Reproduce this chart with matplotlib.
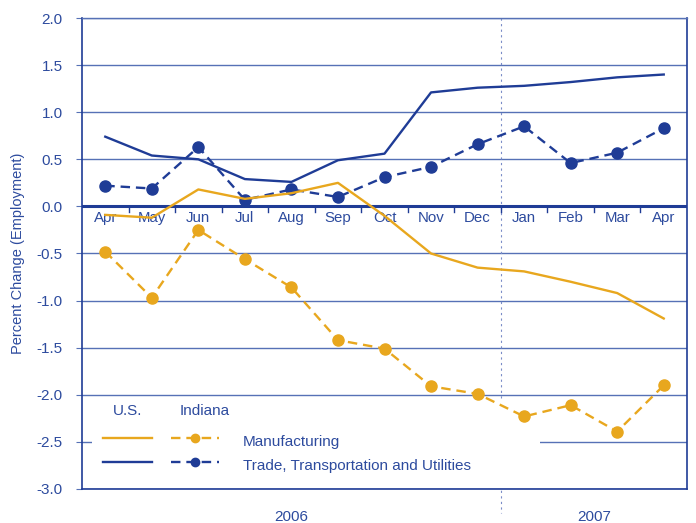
import matplotlib
matplotlib.use("Agg")
import matplotlib.pyplot as plt
from matplotlib.patches import Rectangle

plt.rcParams['font.family'] = ['Liberation Sans', 'DejaVu Sans']
plt.rcParams['axes.unicode_minus'] = False

# --- data (percent change in employment) ---
months = ["Apr", "May", "Jun", "Jul", "Aug", "Sep", "Oct", "Nov", "Dec",
          "Jan", "Feb", "Mar", "Apr"]
us_trade = [0.74, 0.54, 0.50, 0.29, 0.26, 0.49, 0.56, 1.21, 1.26, 1.28, 1.32, 1.37, 1.40]
in_trade = [0.22, 0.19, 0.63, 0.07, 0.18, 0.10, 0.31, 0.42, 0.66, 0.85, 0.46, 0.57, 0.83]
us_mfg = [-0.09, -0.12, 0.18, 0.08, 0.14, 0.25, -0.10, -0.50, -0.65, -0.69, -0.80, -0.92, -1.19]
in_mfg = [-0.48, -0.97, -0.25, -0.56, -0.86, -1.42, -1.51, -1.91, -1.99, -2.23, -2.11, -2.39, -1.90]
years = ["2006", "2007"]
year_pos = [4, 10.5]
yticks = [2.0, 1.5, 1.0, 0.5, 0.0, -0.5, -1.0, -1.5, -2.0, -2.5, -3.0]

NAVY = "#1f3c96"
GOLD = "#e8a71e"
GRID = "#5671b6"
TXT = "#2d4b9e"

fig = plt.figure(figsize=(6.96, 5.23), dpi=100)
ax = fig.add_axes([82 / 696, 1 - 489 / 523, 605 / 696, 471 / 523])

x = list(range(len(months)))
ax.set_xlim(-0.5, len(months) - 0.5)
ax.set_ylim(-3.0, 2.0)

# gridlines
for v in yticks:
    if v != 0:
        ax.axhline(v, color=GRID, lw=1.0, zorder=1)
ax.axhline(0, color=NAVY, lw=2.2, zorder=2)

# divider between years
ax.plot([8.5, 8.5], [2.0, -3.25], color="#7a8cc8", lw=0.8, ls=(0, (2, 3)),
        clip_on=False, zorder=1)

# data lines
ax.plot(x, us_trade, color=NAVY, lw=1.7, zorder=4)
ax.plot(x, in_trade, color=NAVY, lw=1.7, ls=(0, (4, 2.5)), marker="o",
        markersize=8, zorder=4)
ax.plot(x, us_mfg, color=GOLD, lw=1.7, zorder=4)
ax.plot(x, in_mfg, color=GOLD, lw=1.7, ls=(0, (4, 2.5)), marker="o",
        markersize=8, zorder=4)

# month labels along the zero line, with small ticks between them
for i, m in enumerate(months):
    ax.text(i, -0.05, m, ha="center", va="top", fontsize=10.8, color=TXT, zorder=3)
for i in range(len(months) - 1):
    ax.plot([i + 0.5, i + 0.5], [0, -0.06], color=NAVY, lw=1, zorder=2)

# axes styling
for s in ["left", "bottom", "right", "top"]:
    ax.spines[s].set_color(NAVY)
    ax.spines[s].set_linewidth(1.2)
ax.spines["top"].set_color(GRID)
ax.spines["top"].set_linewidth(1.0)
ax.set_yticks(yticks)
ax.set_yticklabels([f"{v:.1f}" for v in yticks])
ax.tick_params(axis="y", length=4, color=GRID, labelsize=11, labelcolor=TXT, pad=10)
ax.set_xticks(year_pos)
ax.set_xticklabels(years)
ax.tick_params(axis="x", length=0, labelsize=11, labelcolor=TXT, pad=15)
ax.set_ylabel("Percent Change (Employment)", fontsize=10.5, color=TXT, labelpad=8)

# custom legend (white panel sits over the grid but under the data)
tr = ax.transAxes
ax.add_patch(Rectangle((0.017, 0.003), 0.74, 0.187, transform=tr,
                       facecolor="white", edgecolor="none", zorder=1.5))
ax.text(0.076, 0.166, "U.S.", transform=tr, ha="center", va="center",
        fontsize=11, color=TXT, zorder=6)
ax.text(0.203, 0.166, "Indiana", transform=tr, ha="center", va="center",
        fontsize=11, color=TXT, zorder=6)
for yy, col, lab in [(0.108, GOLD, "Manufacturing"),
                     (0.057, NAVY, "Trade, Transportation and Utilities")]:
    ax.plot([0.035, 0.116], [yy, yy], transform=tr, color=col, lw=1.7, zorder=6)
    ax.plot([0.147, 0.226], [yy, yy], transform=tr, color=col, lw=1.7,
            ls=(0, (4, 2.5)), zorder=6)
    ax.plot([0.187], [yy], transform=tr, color=col, marker="o", markersize=6, zorder=6)
    ax.text(0.266, yy - 0.008, lab, transform=tr, ha="left", va="center",
            fontsize=11, color=TXT, zorder=6)

fig.savefig("out.png", dpi=100)
